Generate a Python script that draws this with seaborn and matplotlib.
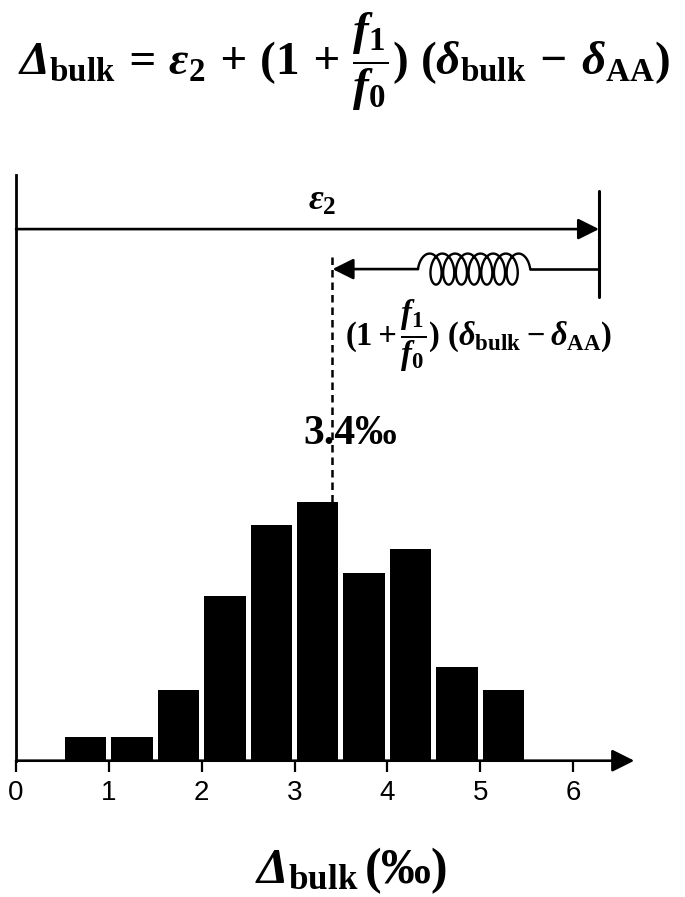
import numpy as np
import matplotlib
matplotlib.use('Agg')
import matplotlib.pyplot as plt
import seaborn as sns

# histogram data (bins of 0.5 permil)
bin_edges = [0.5, 1.0, 1.5, 2.0, 2.5, 3.0, 3.5, 4.0, 4.5, 5.0, 5.5]
bin_centers = [0.75, 1.25, 1.75, 2.25, 2.75, 3.25, 3.75, 4.25, 4.75, 5.25]
counts = [1, 1, 3, 7, 10, 11, 8, 9, 4, 3]
xticks = [0, 1, 2, 3, 4, 5, 6]
mean_val = 3.4
eps2_end = 6.28

sns.set_style('white')
plt.rcParams['font.family'] = ['Liberation Sans', 'DejaVu Sans']
plt.rcParams['text.color'] = 'black'
plt.rcParams['axes.labelcolor'] = 'black'
plt.rcParams['mathtext.fontset'] = 'custom'
plt.rcParams['mathtext.rm'] = 'Liberation Serif:italic:bold'
plt.rcParams['mathtext.it'] = 'Liberation Serif:italic:bold'
plt.rcParams['mathtext.bf'] = 'Liberation Serif:bold'

fig = plt.figure(figsize=(6.85, 8.97), dpi=100)
ax = fig.add_axes([16 / 685, 1 - 760.7 / 897, 622 / 685, 585.7 / 897])

sns.histplot(x=bin_centers, weights=counts, bins=bin_edges, shrink=0.89,
             color='black', alpha=1, edgecolor='black', linewidth=0, ax=ax)

ax.set_xlim(0, 6.7)
ax.set_ylim(0, 24.9)
ax.set_ylabel('')
ax.set_yticks([])
ax.set_xticks(xticks)
ax.set_xticklabels([str(v) for v in xticks])
ax.tick_params(axis='x', direction='out', length=8, width=1.6, labelsize=20,
               pad=6, bottom=True, colors='black')
for s in ['top', 'right', 'bottom']:
    ax.spines[s].set_visible(False)
ax.spines['left'].set_linewidth(2)
ax.spines['left'].set_color('black')

lw = 1.9
# x axis with arrow
ax.annotate('', xy=(6.66, 0), xytext=(0, 0), annotation_clip=False,
            arrowprops=dict(arrowstyle='-|>', color='black', lw=lw,
                            mutation_scale=34, shrinkA=0, shrinkB=0))

# epsilon_2 arrow
y_eps = 22.6
ax.annotate('', xy=(eps2_end, y_eps), xytext=(0, y_eps), annotation_clip=False,
            arrowprops=dict(arrowstyle='-|>', color='black', lw=lw,
                            mutation_scale=32, shrinkA=0, shrinkB=0))
ax.plot([eps2_end, eps2_end], [19.7, 24.2], color='black', lw=2.2, clip_on=False)
ax.text(3.3, 23.8, r'$\varepsilon_{\mathbf{2}}$', fontsize=26, ha='center', va='center')

# spring part
y_sp = 20.9
sx, sy = 92.8, 23.5  # px per data unit
t = np.linspace(np.pi / 2, 15.5 * np.pi, 900)
c, r, ry = 2.02, 8.5, 15.5
xp = c * t - r * np.sin(t)
yp = -ry * np.cos(t)
sp_left = 4.33
xs = sp_left + (xp - xp[0]) / sx
ys = y_sp + yp / sy
ax.plot(xs, ys, color='black', lw=1.7, clip_on=False)
ax.plot([xs[-1], eps2_end], [y_sp, y_sp], color='black', lw=lw, clip_on=False)
ax.annotate('', xy=(mean_val + 0.01, y_sp), xytext=(sp_left, y_sp), annotation_clip=False,
            arrowprops=dict(arrowstyle='-|>', color='black', lw=lw,
                            mutation_scale=32, shrinkA=0, shrinkB=0))
ax.text(4.98, 18.05,
        r'$\mathbf{(1} + \dfrac{f_{\mathbf{1}}}{f_{\mathbf{0}}}\mathbf{)}\ \mathbf{(}\delta_{\mathbf{bulk}}'
        r' - \delta_{\mathbf{AA}}\mathbf{)}$',
        fontsize=23.5, ha='center', va='center')

# dashed mean line
ax.plot([mean_val, mean_val], [max(counts), 21.5], color='black', lw=1.8,
        ls=(0, (3, 2)), clip_on=False)
ax.text(3.6, 13.9, f'{mean_val}\u2030', fontsize=30, ha='center', va='center',
        family='Liberation Serif', weight='bold')

ax.set_xlabel(r'$\Delta_{\mathbf{bulk}}\,\mathbf{(‰)}$', fontsize=36)
ax.xaxis.set_label_coords((351 - 16) / 622, (760.7 - 871) / 585.7)
ax.xaxis.label.set_va('center')

fig.text(0.502, 1 - 62 / 897,
         r'$\Delta_{\mathbf{bulk}}\, = \,\varepsilon_{\mathbf{2}}\, + \,\mathbf{(1}\, + \,'
         r'\dfrac{f_{\mathbf{1}}}{f_{\mathbf{0}}}\mathbf{)}\ \mathbf{(}\delta_{\mathbf{bulk}}'
         r'\, - \,\delta_{\mathbf{AA}}\mathbf{)}$',
         fontsize=34, ha='center', va='center')

fig.savefig('out.png', dpi=100)
